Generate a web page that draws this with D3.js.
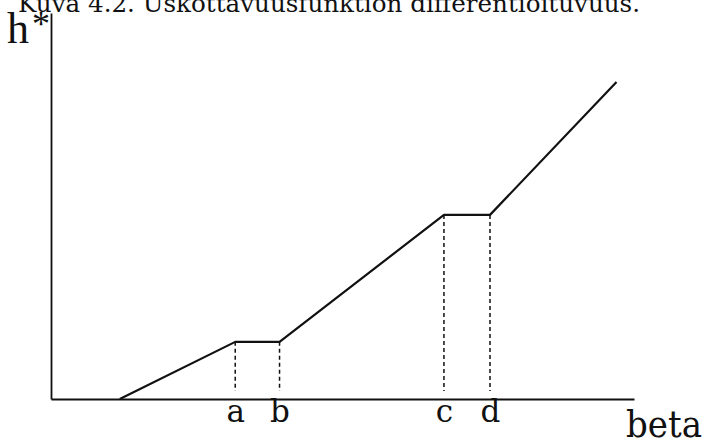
<!DOCTYPE html>
<html>
<head>
<meta charset="utf-8">
<script src="https://cdn.jsdelivr.net/npm/d3@7"></script>
<style>
  html, body { margin: 0; padding: 0; background: #fff; }
  svg { display: block; }
</style>
</head>
<body>
<svg id="chart" width="708" height="439"></svg>
<script>
// Piecewise-linear h*(beta): rises, flat between a and b, rises, flat between c and d, rises.
const betaPoints = [1.18, 3.16, 3.92, 6.74, 7.53, 9.70];
const hPoints    = [0.00, 1.48, 1.48, 4.77, 4.77, 8.21];

// Marked positions on the beta axis
const markLabels = ["a", "b", "c", "d"];
const markBeta   = [3.16, 3.92, 6.74, 7.53];
const markH      = [1.48, 1.48, 4.77, 4.77];

const captionText = "Kuva 4.2. Uskottavuusfunktion differentioituvuus.";

const svg = d3.select("#chart");

const x = d3.scaleLinear().domain([0, 10]).range([51, 634]);
const y = d3.scaleLinear().domain([0, 10]).range([399, 13]);

// Caption at top
svg.append("text")
  .attr("x", 18).attr("y", 12)
  .attr("font-family", "'DejaVu Serif', serif")
  .attr("font-size", 24)
  .attr("textLength", 622)
  .attr("lengthAdjust", "spacingAndGlyphs")
  .attr("fill", "#111")
  .text(captionText);

// Axes
const xAxis = d3.axisBottom(x)
  .tickValues(markBeta)
  .tickFormat((d, i) => markLabels[i])
  .tickSize(0)
  .tickPadding(0);

const gx = svg.append("g")
  .attr("transform", `translate(0,${y(0)})`)
  .call(xAxis);
gx.select(".domain").attr("stroke", "#111").attr("stroke-width", 2);
gx.selectAll(".tick text")
  .attr("font-family", "'DejaVu Serif', serif")
  .attr("font-size", 31)
  .attr("fill", "#111")
  .attr("dy", null)
  .attr("y", 23);

const yAxis = d3.axisLeft(y).tickValues([]).tickSizeOuter(0);
const gy = svg.append("g")
  .attr("transform", `translate(${x(0)},0)`)
  .call(yAxis);
gy.select(".domain").attr("stroke", "#111").attr("stroke-width", 1.8);

// Dashed guide lines from plateau corners down to the axis
svg.append("g").selectAll("line")
  .data(markBeta)
  .join("line")
  .attr("x1", d => x(d)).attr("x2", d => x(d))
  .attr("y1", (d, i) => y(markH[i]))
  .attr("y2", y(0) - 8)
  .attr("stroke", "#111")
  .attr("stroke-width", 1.5)
  .attr("stroke-dasharray", "4,3");

// The function curve
const pts = betaPoints.map((b, i) => [b, hPoints[i]]);
svg.append("path")
  .datum(pts)
  .attr("fill", "none")
  .attr("stroke", "#111")
  .attr("stroke-width", 2.2)
  .attr("stroke-linejoin", "round")
  .attr("d", d3.line().x(d => x(d[0])).y(d => y(d[1])));

// Axis titles
const hLabel = svg.append("text")
  .attr("x", 7).attr("y", 43)
  .attr("font-family", "'Liberation Serif', serif")
  .attr("fill", "#111");
hLabel.append("tspan").attr("font-size", 44).text("h");
hLabel.append("tspan").attr("font-size", 36).attr("dx", 3).attr("dy", -7).text("*");

svg.append("text")
  .attr("x", 626).attr("y", 437)
  .attr("font-family", "'DejaVu Serif', serif")
  .attr("font-size", 38)
  .attr("textLength", 76)
  .attr("lengthAdjust", "spacingAndGlyphs")
  .attr("fill", "#111")
  .text("beta");
</script>
</body>
</html>
